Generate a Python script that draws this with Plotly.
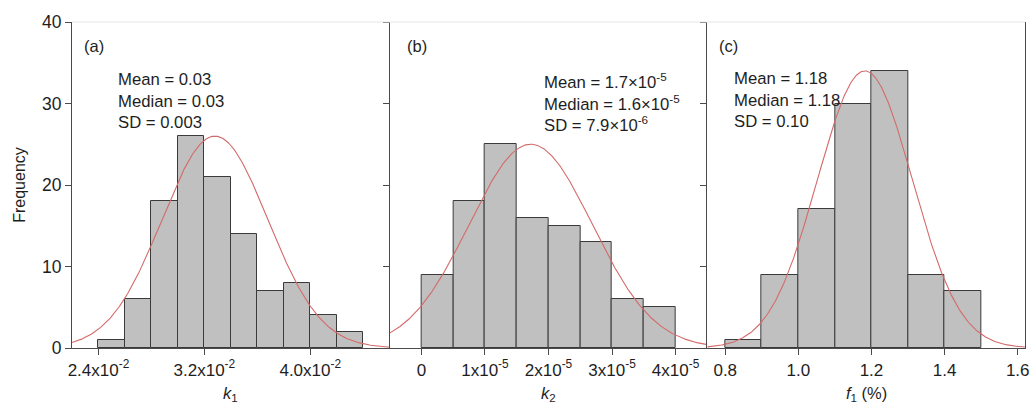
import numpy as np
import plotly.graph_objects as go
from plotly.subplots import make_subplots

# ---- data ----
a_bin_left = [0.024, 0.026, 0.028, 0.030, 0.032, 0.034, 0.036, 0.038, 0.040, 0.042]
a_counts = [1, 6, 18, 26, 21, 14, 7, 8, 4, 2]
a_width = 0.002
a_fit = dict(peak=26, mean=0.0328, sd=0.0040)

b_bin_left = [0.0, 0.5e-5, 1.0e-5, 1.5e-5, 2.0e-5, 2.5e-5, 3.0e-5, 3.5e-5]
b_counts = [9, 18, 25, 16, 15, 13, 6, 5]
b_width = 0.5e-5
b_fit = dict(peak=25, mean=1.72e-5, sd=0.97e-5)

c_bin_left = [0.8, 0.9, 1.0, 1.1, 1.2, 1.3, 1.4]
c_counts = [1, 9, 17, 30, 34, 9, 7]
c_width = 0.1
c_fit = dict(peak=34, mean=1.182, sd=0.13)

a_ticks = [0.024, 0.032, 0.040]
a_ticktext = ["2.4x10<sup>-2</sup>", "3.2x10<sup>-2</sup>", "4.0x10<sup>-2</sup>"]
b_ticks = [0, 1e-5, 2e-5, 3e-5, 4e-5]
b_ticktext = ["0", "1x10<sup>-5</sup>", "2x10<sup>-5</sup>", "3x10<sup>-5</sup>", "4x10<sup>-5</sup>"]
c_ticks = [0.8, 1.0, 1.2, 1.4, 1.6]
c_ticktext = ["0.8", "1.0", "1.2", "1.4", "1.6"]
y_ticks = [0, 10, 20, 30, 40]

a_stats = "Mean = 0.03<br>Median = 0.03<br>SD = 0.003"
b_stats = "Mean = 1.7×10<sup>-5</sup><br>Median = 1.6×10<sup>-5</sup><br>SD = 7.9×10<sup>-6</sup>"
c_stats = "Mean = 1.18<br>Median = 1.18<br>SD = 0.10"

x_ranges = [[0.022, 0.046], [-0.5e-5, 4.5e-5], [0.751, 1.62]]

FONT = "Liberation Sans, Arial, sans-serif"
BAR_FILL = "#c0c0c0"
BAR_LINE = "#3a3a3a"
CURVE = "#d46a6a"
AXIS = "#4a4a4a"
TXT = "#1e1e1e"

fig = make_subplots(rows=1, cols=3, shared_yaxes=False, horizontal_spacing=0)

panels = [
    (a_bin_left, a_counts, a_width, a_fit, a_ticks, a_ticktext),
    (b_bin_left, b_counts, b_width, b_fit, b_ticks, b_ticktext),
    (c_bin_left, c_counts, c_width, c_fit, c_ticks, c_ticktext),
]

for i, (lefts, counts, w, fit, tv, tt) in enumerate(panels, start=1):
    fig.add_trace(go.Bar(x=lefts, y=counts, width=w, offset=0,
                         marker=dict(color=BAR_FILL, line=dict(color=BAR_LINE, width=1)),
                         showlegend=False), row=1, col=i)
    xr = x_ranges[i - 1]
    xs = np.linspace(xr[0], xr[1], 400)
    ys = fit["peak"] * np.exp(-0.5 * ((xs - fit["mean"]) / fit["sd"]) ** 2)
    fig.add_trace(go.Scatter(x=xs, y=ys, mode="lines",
                             line=dict(color=CURVE, width=1.1), showlegend=False),
                  row=1, col=i)
    fig.update_xaxes(range=xr, tickvals=tv, ticktext=tt, showline=True, linecolor=AXIS,
                     linewidth=1.2, ticks="outside", ticklen=6, tickcolor=AXIS,
                     showgrid=False, zeroline=False, tickfont=dict(size=17, color=TXT),
                     row=1, col=i)
    fig.update_yaxes(range=[0, 40], tickvals=y_ticks, showline=True, linecolor=AXIS,
                     linewidth=1.2, ticks="outside", ticklen=6, tickcolor=AXIS,
                     showgrid=False, zeroline=False, showticklabels=(i == 1),
                     tickfont=dict(size=17.5, color=TXT),
                     mirror=(True if i == 3 else False), row=1, col=i)

fig.update_yaxes(title=dict(text="Frequency", font=dict(size=16, color=TXT), standoff=12),
                 row=1, col=1)

annos = []
x_titles = ["<i>k</i><sub>1</sub>", "<i>k</i><sub>2</sub>", "<i>f</i><sub>1</sub> (%)"]
labels = ["(a)", "(b)", "(c)"]
stats = [a_stats, b_stats, c_stats]
# label / stats positions in axis-domain fractions
lab_x = [0.033, 0.048, 0.03]
st_x = [0.14, 0.478, 0.078]
st_y = [0.86, 0.86, 0.862]
for i in range(3):
    xd = "x domain" if i == 0 else f"x{i+1} domain"
    yd = "y domain" if i == 0 else f"y{i+1} domain"
    annos.append(dict(text=labels[i], xref=xd, yref=yd, x=lab_x[i], y=0.925,
                      xanchor="left", yanchor="middle", showarrow=False,
                      font=dict(size=16.5, color=TXT, family=FONT)))
    annos.append(dict(text=stats[i], xref=xd, yref=yd, x=st_x[i], y=st_y[i],
                      xanchor="left", yanchor="top", showarrow=False, align="left",
                      font=dict(size=16.7, color=TXT, family=FONT)))
    annos.append(dict(text=x_titles[i], xref=xd, yref=yd, x=0.5, y=0, yshift=-46,
                      xanchor="center", yanchor="middle", showarrow=False,
                      font=dict(size=16.5, color=TXT, family=FONT)))

fig.update_layout(
    width=1035, height=404,
    margin=dict(l=72, r=6, t=22, b=56),
    paper_bgcolor="white", plot_bgcolor="white",
    font=dict(family=FONT, size=16, color=TXT),
    bargap=0,
    annotations=annos,
    shapes=[dict(type="line", xref="paper", yref="paper", x0=0, x1=1, y0=1, y1=1,
                 line=dict(color="#e6e6e6", width=1))],
)

fig.write_html("out.html")
